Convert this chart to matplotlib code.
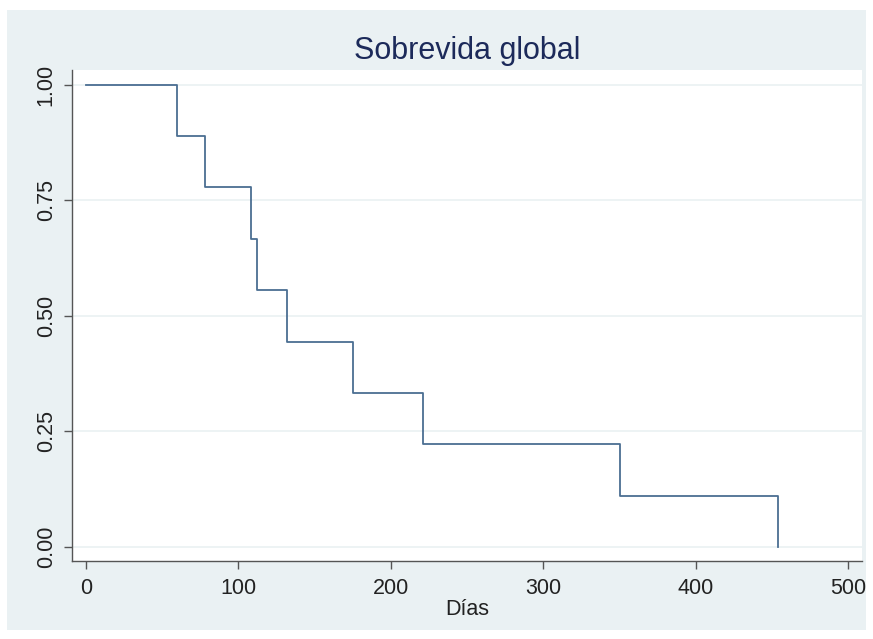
import matplotlib
matplotlib.use("Agg")
import matplotlib.pyplot as plt
from matplotlib.patches import Rectangle

times = [0, 60, 78, 108, 112, 132, 175, 221, 350, 454]
survival = [1.0, 8/9, 7/9, 6/9, 5/9, 4/9, 3/9, 2/9, 1/9, 0.0]
xticks = [0, 100, 200, 300, 400, 500]
yticks = [0.0, 0.25, 0.5, 0.75, 1.0]
ylabels = ["0.00", "0.25", "0.50", "0.75", "1.00"]

plt.rcParams['font.family'] = ['Liberation Sans', 'DejaVu Sans']

W, H = 873, 639
fig = plt.figure(figsize=(W/100, H/100), dpi=100)
fig.patch.set_facecolor('white')
bg = '#eaf1f3'
rect = Rectangle((7/W, 1-630/H), (866-7)/W, (630-10)/H,
                 transform=fig.transFigure, facecolor=bg,
                 edgecolor='none', zorder=-5)
fig.add_artist(rect)

ax = fig.add_axes([72/W, 1-561/H, (862-72)/W, (561-70)/H])
ax.set_zorder(2)
ax.set_facecolor('white')
ax.step(times, survival, where='post', color='#4b6e92', lw=1.3, zorder=3)

ax.set_xlim(-9.2, 509)
ax.set_ylim(-0.0305, 1.032)
ax.set_xticks(xticks)
ax.set_yticks(yticks)
ax.set_yticklabels(ylabels, rotation=90, va='center')
ax.tick_params(axis='both', labelsize=15.5, length=6, width=1, color='#555555',
               labelcolor='#222222', direction='out')
ax.tick_params(axis='x', pad=6)
ax.tick_params(axis='y', pad=5)
ax.grid(axis='y', color='#eaf1f2', lw=1.2, zorder=1)
for s in ['top', 'right']:
    ax.spines[s].set_visible(False)
for s in ['left', 'bottom']:
    ax.spines[s].set_color('#555555')
    ax.spines[s].set_linewidth(1.0)

ax.set_xlabel('Días', fontsize=15.5, color='#222222', labelpad=0)
ax.set_title('Sobrevida global', fontsize=22, color='#1c2a5a', pad=8)

fig.savefig('out.png', dpi=100, facecolor=fig.get_facecolor())
